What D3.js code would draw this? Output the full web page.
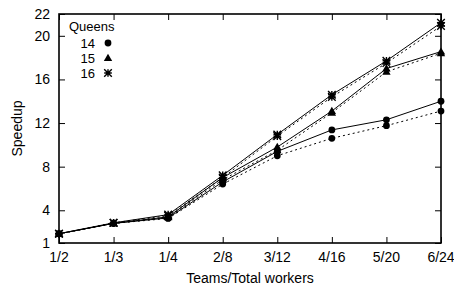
<!DOCTYPE html>
<html>
<head>
<meta charset="utf-8">
<script src="https://cdn.jsdelivr.net/npm/d3@7"></script>
<style>
  html, body { margin: 0; padding: 0; background: #fff; }
  text { font-family: "Liberation Sans", Arial, sans-serif; font-size: 14px; fill: #000; }
  text.leg { font-size: 13px; }
</style>
</head>
<body>
<svg id="chart" width="454" height="289"></svg>
<script>
const categories = ["1/2", "1/3", "1/4", "2/8", "3/12", "4/16", "5/20", "6/24"];
const yTicks = [1, 4, 8, 12, 16, 20, 22];
const seriesNames = ["14", "15", "16"];
const q14 = [1.85, 2.8, 3.3, 6.6, 9.4, 11.37, 12.3, 14.0];
const q14dash = [1.85, 2.8, 3.25, 6.4, 9.0, 10.6, 11.76, 13.1];
const q15 = [1.85, 2.8, 3.4, 7.0, 9.8, 13.1, 17.0, 18.55];
const q15dash = [1.85, 2.8, 3.35, 6.8, 9.5, 12.95, 16.7, 18.4];
const q16 = [1.85, 2.85, 3.6, 7.2, 10.95, 14.6, 17.7, 21.2];
const q16dash = [1.85, 2.85, 3.5, 7.0, 10.8, 14.4, 17.5, 20.9];

const margin = {left: 59, right: 13, top: 14, bottom: 46};
const W = 454, H = 289;
const svg = d3.select("#chart");

const x = d3.scalePoint().domain(categories).range([margin.left, W - margin.right]);
const y = d3.scaleLinear().domain([1, 22]).range([H - margin.bottom, margin.top]);

const tickLen = 6;
// Axes with inward ticks
const gL = svg.append("g").attr("transform", `translate(${margin.left},0)`)
  .call(d3.axisRight(y).tickValues(yTicks).tickSize(tickLen).tickFormat(""));
const gR = svg.append("g").attr("transform", `translate(${W - margin.right},0)`)
  .call(d3.axisLeft(y).tickValues(yTicks).tickSize(tickLen).tickFormat(""));
const gB = svg.append("g").attr("transform", `translate(0,${H - margin.bottom})`)
  .call(d3.axisTop(x).tickSize(tickLen).tickFormat(""));
const gT = svg.append("g").attr("transform", `translate(0,${margin.top})`)
  .call(d3.axisBottom(x).tickSize(tickLen).tickFormat(""));
[gL, gR, gB, gT].forEach(g => {
  g.select(".domain").remove();
  g.selectAll(".tick line").attr("stroke", "#000").attr("stroke-width", 1);
});

// tick labels
svg.append("g").selectAll("text").data(yTicks).join("text")
  .attr("x", margin.left - 9).attr("y", d => y(d)).attr("dy", "0.35em")
  .attr("text-anchor", "end").text(d => d);
svg.append("g").selectAll("text").data(categories).join("text")
  .attr("x", d => x(d)).attr("y", H - margin.bottom + 19)
  .attr("text-anchor", "middle").text(d => d);

// border
svg.append("rect")
  .attr("x", margin.left).attr("y", margin.top)
  .attr("width", W - margin.left - margin.right)
  .attr("height", H - margin.top - margin.bottom)
  .attr("fill", "none").attr("stroke", "#000").attr("stroke-width", 1.6);

// axis titles
svg.append("text").attr("x", 250).attr("y", 283).attr("text-anchor", "middle").text("Teams/Total workers");
svg.append("text").attr("transform", `translate(22,${(margin.top + H - margin.bottom) / 2}) rotate(-90)`)
  .attr("text-anchor", "middle").text("Speedup");

// markers
function marker(g, type, cx, cy) {
  if (type === "circle") {
    g.append("circle").attr("cx", cx).attr("cy", cy).attr("r", 3.4).attr("fill", "#000");
  } else if (type === "triangle") {
    g.append("path").attr("d", `M${cx},${cy - 4.2}L${cx + 4.2},${cy + 3}L${cx - 4.2},${cy + 3}Z`).attr("fill", "#000");
  } else {
    const s = 3.8;
    g.append("path").attr("d",
      `M${cx - s},${cy}H${cx + s}M${cx},${cy - s}V${cy + s}M${cx - s},${cy - s}L${cx + s},${cy + s}M${cx - s},${cy + s}L${cx + s},${cy - s}`)
      .attr("stroke", "#000").attr("stroke-width", 1.4).attr("fill", "none");
  }
}

const line = d3.line().x((d, i) => x(categories[i])).y(d => y(d));
const series = [
  {vals: q14dash, dash: true, type: "circle"},
  {vals: q15dash, dash: true, type: "triangle"},
  {vals: q16dash, dash: true, type: "star"},
  {vals: q14, dash: false, type: "circle"},
  {vals: q15, dash: false, type: "triangle"},
  {vals: q16, dash: false, type: "star"}
];
const gLines = svg.append("g");
series.forEach(s => {
  gLines.append("path").attr("d", line(s.vals)).attr("fill", "none")
    .attr("stroke", "#000").attr("stroke-width", 1)
    .attr("stroke-dasharray", s.dash ? "2,3" : null);
});
const gMarks = svg.append("g");
series.forEach(s => {
  s.vals.forEach((v, i) => marker(gMarks, s.type, x(categories[i]), y(v)));
});

// legend
const leg = svg.append("g");
leg.append("text").attr("class", "leg").attr("x", 69).attr("y", 30.5).text("Queens");
const types = ["circle", "triangle", "star"];
seriesNames.forEach((n, i) => {
  const yy = 43 + i * 15;
  leg.append("text").attr("class", "leg").attr("x", 95).attr("y", yy).attr("dy", "0.35em").attr("text-anchor", "end").text(n);
  marker(leg, types[i], 108, yy);
});
</script>
</body>
</html>
